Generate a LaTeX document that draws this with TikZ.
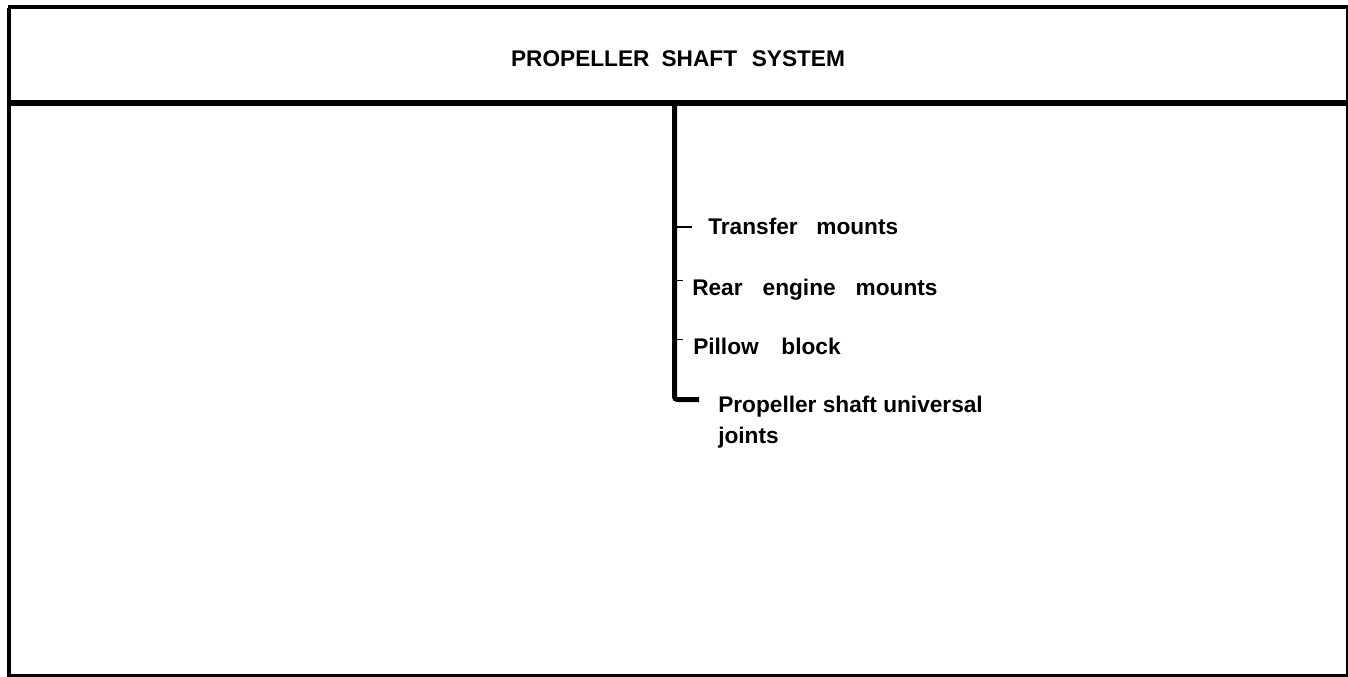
\documentclass[tikz,border=0pt]{standalone}
\usepackage{fontspec}
\setmainfont{Liberation Sans}
\begin{document}
\begin{tikzpicture}[x=0.75pt,y=-0.75pt,
  lbl/.style={anchor=base west,inner sep=0pt,font=\fontsize{17}{23}\selectfont\bfseries},
  trunkline/.style={line width=3.75pt,rounded corners=2pt},
  tick/.style={line width=0.7pt}]
\useasboundingbox (0,0) rectangle (1348,677);
% frame
\draw[line width=3pt] (8,7) -- (1348,7);
\draw[line width=3.3pt] (9,8) -- (9,677);
\draw[line width=1.2pt] (1347,5) -- (1347,677);
\draw[line width=2pt] (9,675.5) -- (1348,675.5);
\draw[line width=4.5pt] (7,103) -- (1347,103);
% title
\node[lbl,anchor=base] (title) at (678,67) {PROPELLER\hspace{9pt}SHAFT\hspace{11pt}SYSTEM};
% items
\node[lbl] (transfer) at (708,235) {Transfer\hspace{14pt}mounts};
\node[lbl] (rear) at (692,295) {Rear\hspace{15pt}engine\hspace{15pt}mounts};
\node[lbl] (pillow) at (693,354) {Pillow\hspace{17pt}block};
\node[lbl] (prop) at (718,412) {Propeller shaft universal};
\node[lbl] (joints) at (718,443) {joints};
% connectors
\coordinate (top) at (674.5,103);
\coordinate (elbow) at (674.5,399.5);
\coordinate (end) at (699,399.5);
\draw[trunkline] (top) -- (elbow) -- (end);
\coordinate (t1) at (677,227);
\coordinate (t2) at (677,280);
\coordinate (t3) at (677,339);
\draw[line width=1.6pt] (t1) -- ++(15,0);
\draw[tick] (t2) -- ++(6,0);
\draw[tick] (t3) -- ++(6,0);
\end{tikzpicture}
\end{document}
